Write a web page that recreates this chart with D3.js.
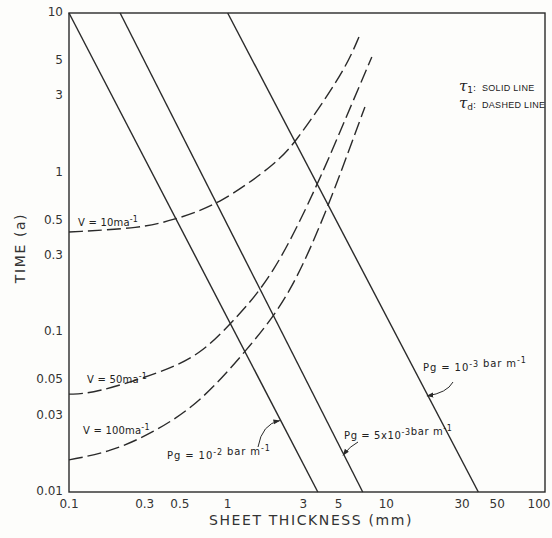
<!DOCTYPE html>
<html lang="en">
<head>
    <meta charset="UTF-8">
    <title>Time vs Sheet Thickness</title>
    <script src="https://d3js.org/d3.v7.min.js"></script>
    <style>
        body {
            margin: 0;
            padding: 0;
            background: #fdfdfb;
        }
        svg {
            display: block;
            font-family: "DejaVu Sans", "Liberation Sans", sans-serif;
        }
        .tick-label {
            font-size: 12px;
            fill: #333;
        }
        .note {
            font-size: 10px;
            fill: #222;
        }
    </style>
</head>
<body>
    <svg id="chart" width="552" height="538"></svg>

    <script>
        // axis ticks (labels shown on the picture, no tick marks)
        const xTicks = [0.1, 0.3, 0.5, 1, 3, 5, 10, 30, 50, 100];
        const yTicks = [0.01, 0.03, 0.05, 0.1, 0.3, 0.5, 1, 3, 5, 10];

        // tau_1 : solid lines, one per Pg, [thickness, time]
        const pgLines = [
            { name: "1e-2", points: [[0.1, 10], [3.7, 0.01]] },
            { name: "5e-3", points: [[0.21, 10], [7.1, 0.01]] },
            { name: "1e-3", points: [[1.0, 10], [38, 0.01]] }
        ];

        // tau_d : dashed curves, one per V
        const v10 = [[0.1, 0.425], [0.29, 0.45], [0.45, 0.506], [0.86, 0.62], [2.05, 1.15],
                     [2.69, 1.58], [3.82, 2.58], [5.65, 4.72], [6.72, 7.08]];
        const v50 = [[0.1, 0.041], [0.142, 0.0413], [0.374, 0.0557], [0.67, 0.0722], [1.06, 0.115],
                     [1.93, 0.222], [3.71, 0.85], [5.49, 2.14], [8.1, 5.3]];
        const v100 = [[0.1, 0.0159], [0.181, 0.0178], [0.338, 0.0234], [0.67, 0.0361], [1.32, 0.0776],
                      [2.47, 0.167], [4.29, 0.61], [5.73, 1.33], [7.33, 2.58]];

        const margin = { top: 13, right: 7, bottom: 46, left: 69 };
        const width = 552, height = 538;
        const svg = d3.select("#chart");

        const x = d3.scaleLog().domain([0.1, 100]).range([margin.left, width - margin.right]);
        const y = d3.scaleLog().domain([0.01, 10]).range([height - margin.bottom, margin.top]);

        const ink = "#2a2a2a";

        // frame
        svg.append("rect")
            .attr("x", x(0.1)).attr("y", y(10))
            .attr("width", x(100) - x(0.1))
            .attr("height", y(0.01) - y(10))
            .attr("fill", "none")
            .attr("stroke", ink)
            .attr("stroke-width", 1.4);

        // tick labels
        svg.append("g").selectAll("text")
            .data(xTicks)
            .join("text")
            .attr("class", "tick-label")
            .attr("x", d => d === 100 ? x(d) - 6 : x(d))
            .attr("y", height - margin.bottom + 16)
            .attr("text-anchor", "middle")
            .text(d => String(d));

        svg.append("g").selectAll("text")
            .data(yTicks)
            .join("text")
            .attr("class", "tick-label")
            .attr("x", margin.left - 6)
            .attr("y", d => y(d) + 3)
            .attr("text-anchor", "end")
            .text(d => String(d));

        // axis titles
        svg.append("text")
            .attr("x", 311)
            .attr("y", 525)
            .attr("text-anchor", "middle")
            .attr("font-size", 14)
            .attr("letter-spacing", 1.6)
            .attr("fill", "#333")
            .text("SHEET THICKNESS  (mm)");

        svg.append("text")
            .attr("transform", "translate(25,248) rotate(-90)")
            .attr("text-anchor", "middle")
            .attr("font-size", 14)
            .attr("letter-spacing", 1.6)
            .attr("fill", "#333")
            .text("TIME  (a)");

        const line = d3.line().x(d => x(d[0])).y(d => y(d[1]));
        const curve = d3.line().x(d => x(d[0])).y(d => y(d[1])).curve(d3.curveBasis);

        // solid lines
        svg.append("g").selectAll("path")
            .data(pgLines)
            .join("path")
            .attr("d", d => line(d.points))
            .attr("fill", "none")
            .attr("stroke", ink)
            .attr("stroke-width", 1.4);

        // dashed curves
        svg.append("g").selectAll("path")
            .data([v10, v50, v100])
            .join("path")
            .attr("d", curve)
            .attr("fill", "none")
            .attr("stroke", ink)
            .attr("stroke-width", 1.4)
            .attr("stroke-dasharray", "14,5");

        // text with superscripts: parts = [[text, sup?], ...]
        function richText(px, py, parts, size, spacing) {
            const t = svg.append("text")
                .attr("class", "note")
                .attr("x", px).attr("y", py)
                .attr("font-size", size || 10)
                .attr("letter-spacing", spacing || 0);
            parts.forEach(([s, sup]) => {
                t.append("tspan")
                    .attr("dy", sup ? -4 : 0)
                    .attr("font-size", sup ? 8 : null)
                    .text(s);
                if (sup) t.append("tspan").attr("dy", 4).text("");
            });
            return t;
        }

        richText(78, 226, [["V = 10ma"], ["-1", true]], 10, 0.2);
        richText(87, 383, [["V = 50ma"], ["-1", true]], 10, 0.2);
        richText(83, 434, [["V = 100ma"], ["-1", true]], 10, 0.2);

        richText(167, 459, [["Pg = 10"], ["-2", true], [" bar m"], ["-1", true]], 10.5, 0.9);
        richText(344, 439, [["Pg = 5x10"], ["-3", true], ["bar m"], ["-1", true]], 10.5, 0.6);
        richText(423, 371, [["Pg = 10"], ["-3", true], [" bar m"], ["-1", true]], 10.5, 0.9);

        // point on a solid line at a given time (log interpolation)
        function onLine(pts, t) {
            const [a, b] = pts;
            const f = (Math.log10(t) - Math.log10(a[1])) / (Math.log10(b[1]) - Math.log10(a[1]));
            const lx = Math.log10(a[0]) + f * (Math.log10(b[0]) - Math.log10(a[0]));
            return [x(Math.pow(10, lx)), y(t)];
        }

        svg.append("defs").append("marker")
            .attr("id", "head")
            .attr("viewBox", "0 0 10 10")
            .attr("refX", 9).attr("refY", 5)
            .attr("markerWidth", 7).attr("markerHeight", 7)
            .attr("orient", "auto")
            .append("path")
            .attr("d", "M0,1.5 L10,5 L0,8.5 Z")
            .attr("fill", ink);

        const arrows = [
            { line: 0, t: 0.028, from: [258, 447], bend: [262, 424] },
            { line: 1, t: 0.017, from: [358, 442], bend: [350, 446] },
            { line: 2, t: 0.04, from: [453, 382], bend: [447, 393] }
        ];
        arrows.forEach(a => {
            const tip = onLine(pgLines[a.line].points, a.t);
            svg.append("path")
                .attr("d", `M${a.from[0]},${a.from[1]} Q${a.bend[0]},${a.bend[1]} ${tip[0] - 1},${tip[1]}`)
                .attr("fill", "none")
                .attr("stroke", ink)
                .attr("stroke-width", 1)
                .attr("marker-end", "url(#head)");
        });

        // legend
        const legend = [["1", "SOLID LINE", 91], ["d", "DASHED LINE", 108]];
        legend.forEach(([sub, label, ly]) => {
            const t = svg.append("text").attr("x", 459).attr("y", ly).attr("fill", "#222");
            t.append("tspan").attr("font-family", "DejaVu Serif").attr("font-style", "italic").attr("font-size", 15).text("τ");
            t.append("tspan").attr("font-size", 9).attr("dy", 2).text(sub);
            t.append("tspan").attr("font-size", 9).attr("dy", -2).attr("x", 473).text(":");
            t.append("tspan").attr("font-family", "Liberation Sans").attr("font-size", 9)
                .attr("letter-spacing", 0.3).attr("x", 482).text(label);
        });
    </script>
</body>
</html>
